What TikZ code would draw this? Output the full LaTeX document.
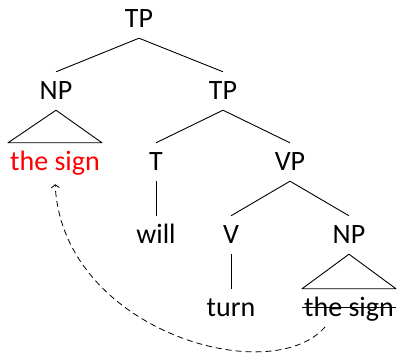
\documentclass[tikz,border=0pt]{standalone}
\usepackage{fontspec}
\setmainfont{Carlito}
\usepackage{tikz}
\usetikzlibrary{arrows.meta,calc}

\begin{document}
\begin{tikzpicture}[x=1pt,y=-1pt,>={Straight Barb[length=3pt,width=8pt]},line join=round,
  lbl/.style={anchor=base,inner xsep=2pt,inner ysep=10pt,text height=18pt,text depth=0pt,font=\fontsize{28}{34}\selectfont},
  br/.style={line width=0.9pt}]
  \useasboundingbox (0,0) rectangle (399,355);
  \node[lbl] (TP0) at (139,28) {TP};
  \node[lbl] (NP0) at (56,100) {NP};
  \node[lbl] (TP1) at (223,100) {TP};
  \node[lbl,red] (SG0) at (55,171) {the sign};
  \node[lbl] (T0) at (156,171) {T};
  \node[lbl] (VP0) at (290,171) {VP};
  \node[lbl] (WL0) at (156,244) {will};
  \node[lbl] (V0) at (231,244) {V};
  \node[lbl] (NP1) at (349,244) {NP};
  \node[lbl] (TN0) at (231,317) {turn};
  \node[lbl] (SG1) at (349,317) {the sign};
  \coordinate (TR0) at (325,327);
  \draw[br] (TP0.south) -- (NP0.north);
  \draw[br] (TP0.south) -- (TP1.north);
  \draw[br] (TP1.south) -- (T0.north);
  \draw[br] (TP1.south) -- (VP0.north);
  \draw[br] (T0.south) -- (WL0.north);
  \draw[br] (VP0.south) -- (V0.north);
  \draw[br] (VP0.south) -- (NP1.north);
  \draw[br] (V0.south) -- (TN0.north);
  \draw[br] (NP0.south) -- (SG0.north west) -- (SG0.north east) -- cycle;
  \draw[br] (NP1.south) -- (SG1.north west) -- (SG1.north east) -- cycle;
  \draw[line width=1pt] ([yshift=9pt]SG1.base west) -- ([yshift=9pt]SG1.base east);
  \draw[->,dash pattern=on 6pt off 4pt,line width=0.8pt,shorten >=3pt] (TR0) .. controls (270,390) and (62,330) .. (SG0.south);
\end{tikzpicture}
\end{document}
